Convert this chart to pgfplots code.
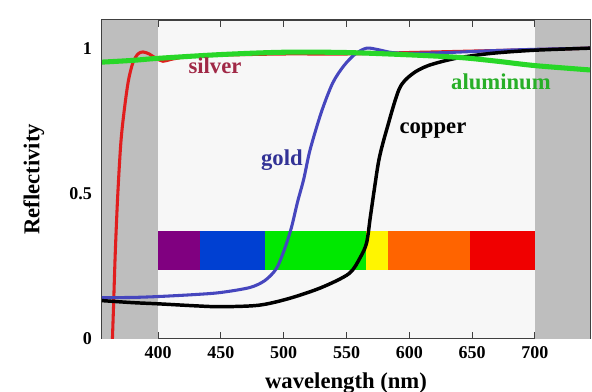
\documentclass[border=0pt]{standalone}
\usepackage{pgfplots}
\pgfplotsset{compat=1.18}
\usepackage{fontspec}
\setmainfont{Liberation Serif}
\definecolor{shade}{RGB}{190,190,190}
\definecolor{cpurple}{RGB}{128,0,128}
\definecolor{cblue}{RGB}{0,64,210}
\definecolor{cgreen}{RGB}{0,232,0}
\definecolor{cyellow}{RGB}{255,245,0}
\definecolor{corange}{RGB}{255,100,0}
\definecolor{cred}{RGB}{240,0,0}
\definecolor{silvercol}{RGB}{225,30,30}
\definecolor{silvertxt}{RGB}{160,40,70}
\definecolor{goldcol}{RGB}{70,70,190}
\definecolor{goldtxt}{RGB}{50,50,150}
\definecolor{alcol}{RGB}{40,215,40}
\definecolor{altxt}{RGB}{40,175,40}
\begin{document}
\begin{tikzpicture}
\begin{axis}[
  scale only axis,
  width=366pt, height=239pt,
  xmin=355.4, xmax=743.8, ymin=0, ymax=1.097,
  xtick={400,450,...,700},
  ytick={0,0.25,0.5,0.75,1},
  yticklabels={0,,0.5,,1},
  tick align=inside,
  tick pos=both,
  major tick length=5pt,
  axis line style={draw=black!75, line width=0.8pt},
  tick style={black!75, line width=0.8pt},
  /pgf/number format/assume math mode=true,
  ticklabel style={font=\fontsize{13.5}{15}\selectfont\bfseries},
  xticklabel style={yshift=-2pt},
  yticklabel style={xshift=-4pt},
  xlabel={\fontsize{17}{19}\selectfont\bfseries wavelength (nm)},
  ylabel={\fontsize{17}{19}\selectfont\bfseries Reflectivity},
  xlabel style={yshift=-4pt},
  ylabel style={yshift=12pt},
  axis background/.style={fill=white!97!black},
  clip=true,
]
% shaded regions
\addplot[fill=shade, draw=none] coordinates {(355.4,0) (400,0) (400,1.097) (355.4,1.097)} -- cycle;
\addplot[fill=shade, draw=none] coordinates {(700,0) (743.8,0) (743.8,1.097) (700,1.097)} -- cycle;
% spectrum bar
\addplot[fill=cpurple, draw=none] coordinates {(400,0.238) (433,0.238) (433,0.369) (400,0.369)} -- cycle;
\addplot[fill=cblue, draw=none] coordinates {(433,0.238) (485,0.238) (485,0.369) (433,0.369)} -- cycle;
\addplot[fill=cgreen, draw=none] coordinates {(485,0.238) (565.5,0.238) (565.5,0.369) (485,0.369)} -- cycle;
\addplot[fill=cyellow, draw=none] coordinates {(565.5,0.238) (582.7,0.238) (582.7,0.369) (565.5,0.369)} -- cycle;
\addplot[fill=corange, draw=none] coordinates {(582.7,0.238) (648,0.238) (648,0.369) (582.7,0.369)} -- cycle;
\addplot[fill=cred, draw=none] coordinates {(648,0.238) (700,0.238) (700,0.369) (648,0.369)} -- cycle;
% silver
\addplot[silvercol, line width=2.3pt, smooth] coordinates {
 (363.3,-0.05) (364.5,0.1) (366,0.3) (368,0.5) (370.5,0.68) (373.5,0.8) (376.5,0.89) (380,0.95) (384,0.98) (388,0.987) (393,0.98) (398,0.966) (404,0.955) (411,0.962) (425,0.972) (450,0.976) (500,0.98) (550,0.98) (600,0.985) (650,0.99) (700,0.995) (743.8,1.0)};
% gold
\addplot[goldcol, line width=2.3pt, smooth] coordinates {
 (355.4,0.141) (380,0.142) (400,0.145) (430,0.152) (450,0.159) (473,0.176) (485,0.2) (494,0.24) (500,0.3) (506,0.38) (511,0.47) (516,0.55) (521,0.65) (530,0.78) (539,0.88) (548,0.94) (557,0.98) (566,1.0) (575,0.995) (586,0.985) (600,0.982) (630,0.985) (670,0.992) (700,0.996) (743.8,1.0)};
% copper
\addplot[black, line width=2.6pt, smooth] coordinates {
 (355.4,0.131) (380,0.124) (400,0.12) (430,0.113) (450,0.11) (480,0.115) (504,0.138) (530,0.176) (552,0.224) (561,0.28) (566,0.33) (569,0.42) (572,0.51) (576,0.62) (582,0.72) (592,0.86) (602,0.91) (615,0.94) (637,0.965) (665,0.982) (700,0.993) (743.8,1.0)};
% aluminum
\addplot[alcol, line width=3.8pt, smooth] coordinates {
 (355.4,0.952) (380,0.958) (400,0.965) (450,0.978) (500,0.986) (550,0.985) (600,0.977) (640,0.968) (670,0.955) (700,0.94) (743.8,0.925)};
% labels
\node[silvertxt, font=\fontsize{17}{19}\selectfont\bfseries] at (axis cs:445.3,0.941) {silver};
\node[goldtxt, font=\fontsize{17}{19}\selectfont\bfseries] at (axis cs:498.6,0.614) {gold};
\node[black, font=\fontsize{17}{19}\selectfont\bfseries] at (axis cs:618.8,0.717) {copper};
\node[altxt, font=\fontsize{17}{19}\selectfont\bfseries] at (axis cs:672.9,0.883) {aluminum};
\end{axis}
\pgfresetboundingbox
\path ([shift={(-76.5pt,-39.75pt)}]current axis.south west) rectangle ([shift={(1.5pt,15pt)}]current axis.north east);
\end{tikzpicture}
\end{document}
